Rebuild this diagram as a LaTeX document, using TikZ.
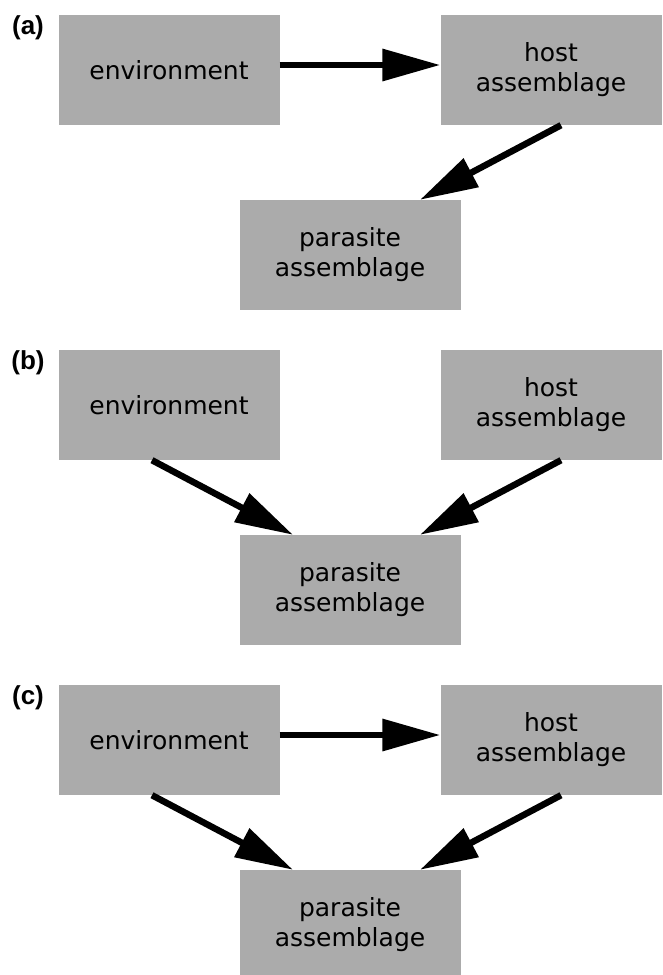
\documentclass[tikz,border=0pt]{standalone}
\usepackage{fontspec}
\setmainfont{DejaVu Sans}
\newfontfamily\panelfont{Liberation Sans}
\usetikzlibrary{arrows.meta}
\definecolor{boxgray}{HTML}{ABABAB}
\begin{document}
\begin{tikzpicture}[x=1pt,y=-1pt,
  box/.style={fill=boxgray, minimum width=221pt, minimum height=110pt, inner sep=0pt, align=center, font=\fontsize{25}{30}\selectfont},
  link/.style={line width=6.5pt, -{Triangle[length=58pt,width=31pt]}},
  panel/.style={font=\panelfont\bfseries\fontsize{26}{30}\selectfont}]
\useasboundingbox (0,0) rectangle (662,975);

\node[panel] (la) at (28,28) {(a)};
\node[box] (enva) at (169,70) {environment};
\node[box] (hosta) at (551,70) {host\\assemblage};
\node[box] (para) at (350,255) {parasite\\assemblage};
\draw[link] ([yshift=5pt]enva.east) -- ([yshift=5pt]hosta.west);
\draw[link] ([xshift=10pt]hosta.south) -- ([xshift=70pt]para.north);

\node[panel] (lb) at (28,363) {(b)};
\node[box] (envb) at (169,405) {environment};
\node[box] (hostb) at (551,405) {host\\assemblage};
\node[box] (parb) at (350,590) {parasite\\assemblage};
\draw[link] ([xshift=-17pt]envb.south) -- ([xshift=-57pt]parb.north);
\draw[link] ([xshift=10pt]hostb.south) -- ([xshift=70pt]parb.north);

\node[panel] (lc) at (28,698) {(c)};
\node[box] (envc) at (169,740) {environment};
\node[box] (hostc) at (551,740) {host\\assemblage};
\node[box] (parc) at (350,925) {parasite\\assemblage};
\draw[link] ([yshift=5pt]envc.east) -- ([yshift=5pt]hostc.west);
\draw[link] ([xshift=-17pt]envc.south) -- ([xshift=-57pt]parc.north);
\draw[link] ([xshift=10pt]hostc.south) -- ([xshift=70pt]parc.north);
\end{tikzpicture}
\end{document}
